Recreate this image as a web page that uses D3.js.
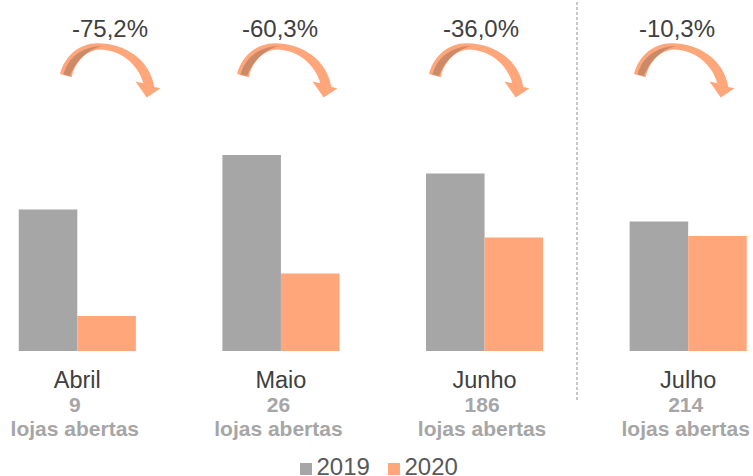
<!DOCTYPE html>
<html><head><meta charset="utf-8">
<script src="https://cdn.jsdelivr.net/npm/d3@7/dist/d3.min.js"></script>
<style>html,body{margin:0;padding:0;background:#fff}svg{display:block}text{font-family:"Liberation Sans",Arial,sans-serif}</style>
</head><body><svg id="c" width="753" height="476"></svg>
<script>
const months = ["Abril","Maio","Junho","Julho"];
const stores = ["9","26","186","214"];
const changes = ["-75,2%","-60,3%","-36,0%","-10,3%"];
const series = ["2019","2020"];
const values2019 = [141.5,196,177.5,129.5];
const values2020 = [35,77.5,113.5,115];
const colors = ["#a6a6a6","#ffa67a"];

const svg = d3.select("#c");
const baseY = 351;
const x0 = d3.scaleBand().domain(months).range([-24.5,790]).paddingInner(0.425).paddingOuter(0.2125);
const x1 = d3.scaleBand().domain(series).range([0,x0.bandwidth()]);
const y = d3.scaleLinear().domain([0,196]).range([baseY,155]);

months.forEach((m,i)=>{
  [values2019[i],values2020[i]].forEach((v,j)=>{
    svg.append("rect").attr("x",x0(m)+x1(series[j])).attr("y",y(v))
      .attr("width",x1.bandwidth()).attr("height",baseY-y(v)).attr("fill",colors[j]);
  });
  const cx = x0(m)+x0.bandwidth()/2;
  svg.append("text").attr("x",cx).attr("y",388).attr("text-anchor","middle")
    .attr("font-size",23.5).attr("fill","#404040").text(m);
  svg.append("text").attr("x",cx-2.5).attr("y",411.5).attr("text-anchor","middle")
    .attr("font-size",21).attr("font-weight","bold").attr("fill","#a6a6a6").text(stores[i]);
  svg.append("text").attr("x",cx-2.5).attr("y",436).attr("text-anchor","middle")
    .attr("font-size",21).attr("font-weight","bold").attr("fill","#a6a6a6").text("lojas abertas");
});

const arrowX = [0,177,369,574];
const labelX = [110,280,481,677];
const outer = "M60,74C65,55 80,43.5 97,43.3C125,43 150,60 154.3,87L160.5,88.3L146.7,97.5L135.5,81.5L143.3,83.3C139,66 122,50 100,49.5C86,50 75,62 71.7,77.3Z";
const inner = "M63.5,74.5C68,58 82,46 103,46C90,48 76,60 70,76Z";
changes.forEach((c,i)=>{
  const g = svg.append("g").attr("transform",`translate(${arrowX[i]},0)`);
  g.append("path").attr("d",outer).attr("fill","#ffa67a");
  g.append("path").attr("d",inner).attr("fill","#cc8a68");
  svg.append("text").attr("x",labelX[i]).attr("y",37).attr("text-anchor","middle")
    .attr("font-size",24).attr("fill","#404040").text(c);
});

svg.append("line").attr("x1",577).attr("x2",577).attr("y1",2).attr("y2",402)
  .attr("stroke","#a6a6a6").attr("stroke-width",1.25).attr("stroke-dasharray","3 2");

const legendX = [300,388];
series.forEach((s,j)=>{
  svg.append("rect").attr("x",legendX[j]).attr("y",463).attr("width",12).attr("height",12).attr("fill",colors[j]);
  svg.append("text").attr("x",legendX[j]+16.5).attr("y",475).attr("font-size",24).attr("fill","#595959").text(s);
});
</script></body></html>
